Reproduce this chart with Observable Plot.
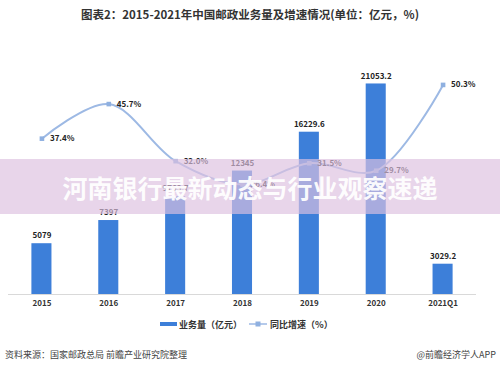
<!DOCTYPE html>
<html>
<head>
<meta charset="utf-8">
<script src="https://cdn.jsdelivr.net/npm/d3@7"></script>
<script src="https://cdn.jsdelivr.net/npm/@observablehq/plot@0.6"></script>
<style>
  html, body { margin: 0; padding: 0; background: #fff; }
  body { width: 500px; height: 374px; overflow: hidden; font-family: "Noto Sans CJK SC", "Noto Sans", sans-serif; }
  #wrap { position: relative; width: 500px; height: 374px; }
  .abs { position: absolute; }
  #title { left: 0; top: 6px; width: 500px; text-align: center; font-size: 11.5px; font-weight: bold; color: #333; }
  #bars, #line { left: 0; top: 30px; }
  #legend { top: 317px; left: 0; width: 500px; height: 14px; font-size: 9px; font-weight: bold; color: #333; }
  #src { left: 5px; top: 348px; font-size: 9px; color: #444; }
  #app { right: 4px; top: 348px; font-size: 9px; color: #444; }
  #banner { left: 0; top: 159px; width: 500px; height: 55px; background: rgba(221,193,224,0.67); display: flex; align-items: center; justify-content: center; }
  #banner span { color: rgba(255,255,255,0.95); font-size: 25px; font-weight: bold; letter-spacing: 0px; }
</style>
</head>
<body>
<div id="wrap">
  <div id="title" class="abs">图表2：2015-2021年中国邮政业务量及增速情况(单位：亿元，%)</div>
  <div id="bars" class="abs"></div>
  <div id="line" class="abs"></div>
  <div id="legend" class="abs">
    <svg width="500" height="14" style="position:absolute;left:0;top:0">
      <rect x="160" y="5" width="17" height="4" fill="#3d7fd9"></rect>
      <text x="179" y="10.5" font-size="9" font-weight="bold" fill="#333">业务量（亿元）</text>
      <line x1="249" y1="7" x2="267" y2="7" stroke="#9db9e4" stroke-width="1.5"></line>
      <rect x="255.5" y="4.5" width="5" height="5" fill="#8fb0e0"></rect>
      <text x="270" y="10.5" font-size="9" font-weight="bold" fill="#333">同比增速（%）</text>
    </svg>
  </div>
  <div id="src" class="abs">资料来源：国家邮政总局 前瞻产业研究院整理</div>
  <div id="app" class="abs">@前瞻经济学人APP</div>
  <div id="banner" class="abs"><span>河南银行最新动态与行业观察速递</span></div>
</div>
<script>
const categories = ["2015", "2016", "2017", "2018", "2019", "2020", "2021Q1"];
const volume = [5079, 7397, 9763.7, 12345, 16229.6, 21053.2, 3029.2];
const volumeLabels = ["5079", "7397", "9763.7", "12345", "16229.6", "21053.2", "3029.2"];
const growth = [37.4, 45.7, 32.0, 26.4, 31.5, 29.7, 50.3];

const barData = categories.map((c, i) => ({cat: c, v: volume[i], label: volumeLabels[i]}));
const lineData = categories.map((c, i) => ({cat: c, g: growth[i], label: growth[i].toFixed(1) + "%"}));

const common = {
  width: 500, height: 285,
  marginLeft: 8, marginRight: 24, marginTop: 14, marginBottom: 21,
  style: {fontFamily: '"Noto Sans CJK SC", "Noto Sans", sans-serif', background: "transparent"}
};

const bars = Plot.plot({
  ...common,
  x: {domain: categories, type: "band", paddingInner: 0.7, paddingOuter: 0.35, round: false, label: null},
  y: {domain: [0, 25000], axis: null},
  marks: [
    Plot.barY(barData, {x: "cat", y: "v", fill: "#3d7fd9"}),
    Plot.ruleY([0], {stroke: "#d9d9d9", strokeWidth: 1}),
    Plot.text(barData, {x: "cat", y: "v", text: "label", dy: -8, fontSize: 8, fontWeight: "bold", fill: "#222"}),
    Plot.axisX({tickSize: 0, tickPadding: 6, fontSize: 8, fontWeight: "bold", color: "#333", label: null})
  ]
});
document.getElementById("bars").appendChild(bars);

const line = Plot.plot({
  ...common,
  x: {domain: categories, type: "point", padding: 0.5, round: false, axis: null},
  y: {domain: [0, 60], axis: null},
  marks: [
    Plot.line(lineData, {x: "cat", y: "g", curve: "catmull-rom", stroke: "#9db9e4", strokeWidth: 2}),
    Plot.dot(lineData, {x: "cat", y: "g", symbol: "square", r: 2.6, fill: "#8fb0e0", stroke: "none"}),
    Plot.text(lineData, {x: "cat", y: "g", text: "label", dx: 8, textAnchor: "start", fontSize: 8, fontWeight: "bold", fill: "#222"})
  ]
});
document.getElementById("line").appendChild(line);
</script>
</body>
</html>
